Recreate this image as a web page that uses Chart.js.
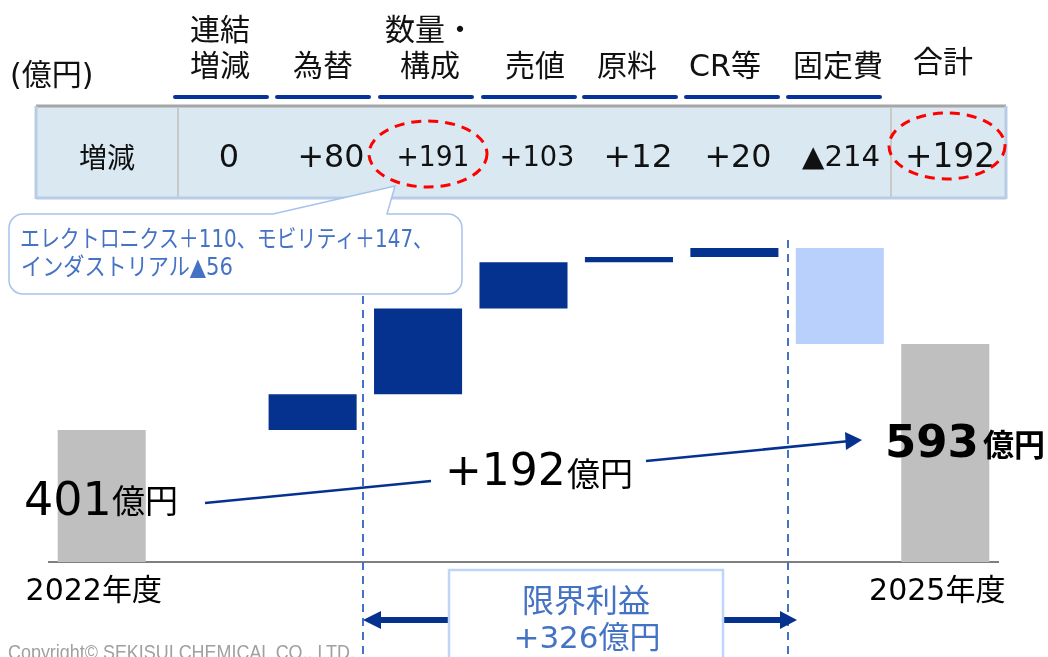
<!DOCTYPE html>
<html><head><meta charset="utf-8">
<script src="https://cdn.jsdelivr.net/npm/chart.js@4.4.0/dist/chart.umd.min.js"></script>
<style>
html,body{margin:0;padding:0;background:#fff;width:1048px;height:657px;overflow:hidden;}
#wrap{position:relative;width:1048px;height:657px;}
#c{position:absolute;left:0;top:200px;}
#ov{position:absolute;left:0;top:0;}
</style></head><body>
<div id="wrap">
<canvas id="c" width="1048" height="430"></canvas>
<svg id="ov" width="1048" height="657" xmlns="http://www.w3.org/2000/svg"></svg>
</div>
<script>
// ---- data ----
const categories = ['2022年度','連結増減','為替','数量・構成','売値','原料','CR等','固定費','2025年度'];
const startTotal = 401;
const endTotal = 593;
const changes = [0, 80, 191, 103, 12, 20, -214];
const headerLabels = [['連結','増減'],['為替'],['数量・','構成'],['売値'],['原料'],['CR等'],['固定費'],['合計']];
const rowLabel = '増減';
const tableValues = ['0','+80','+191','+103','+12','+20','▲214','+192'];
const breakdownText = ['エレクトロニクス＋110、モビリティ＋147、','インダストリアル▲56'];
const marginalProfit = ['限界利益','+326億円'];
const unitLabel = '(億円)';
const diffLabel = '+192';
const yen = '億円';
const copyright = 'Copyright© SEKISUI CHEMICAL CO., LTD.';

// ---- styles ----
const FONT = '"DejaVu Sans", "Noto Sans CJK JP", sans-serif';
const SFONT = "'DejaVu Sans','Noto Sans CJK JP',sans-serif";
const DARK = '#05318F', LIGHT = '#B9D0FC', GRAY = '#BFBFBF';

// ---- waterfall bars ----
let cum = startTotal;
const barData = [[0, startTotal]];
const barColors = [GRAY];
changes.forEach(d => { barData.push([cum, cum + d]); barColors.push(d >= 0 ? DARK : LIGHT); cum += d; });
barData.push([0, endTotal]); barColors.push(GRAY);

new Chart(document.getElementById('c').getContext('2d'), {
  type: 'bar',
  data: { labels: categories, datasets: [{ data: barData, backgroundColor: barColors, borderWidth: 0,
    barPercentage: 0.835, categoryPercentage: 1, clip: 0 }] },
  options: {
    responsive: false, animation: false, devicePixelRatio: 1,
    layout: { padding: { left: 49, right: 50, top: 0, bottom: 8 } },
    plugins: { legend: { display: false }, tooltip: { enabled: false } },
    scales: {
      x: { grid: { display: false, drawTicks: false }, border: { display: true, color: '#7F7F7F', width: 2 },
        ticks: { autoSkip: false, maxRotation: 0, minRotation: 0, padding: 12, labelOffset: -8, color: '#000',
          font: { family: FONT, size: 30 },
          callback: (v, i) => (i === 0 || i === categories.length - 1) ? categories[i] : '' } },
      y: { display: false, min: 107, max: 914 }
    }
  }
});

// ---- overlay ----
const NS = 'http://www.w3.org/2000/svg';
const svg = document.getElementById('ov');
function el(tag, attrs, text) {
  const e = document.createElementNS(NS, tag);
  for (const k in attrs) e.setAttribute(k, attrs[k]);
  if (text != null) e.textContent = text;
  svg.appendChild(e); return e;
}

// unit
el('text', {x: 10, y: 85, 'font-family': SFONT, 'font-size': 30, fill: '#111'}, unitLabel);

// headers
const headerCenter = [220, 323, 430, 535, 627, 725, 838, 943];
headerLabels.forEach((lines, i) => {
  const ys = lines.length === 2 ? [39.5, 76] : [i === headerLabels.length - 1 ? 72 : 76];
  lines.forEach((t, j) => el('text', {x: headerCenter[i], y: ys[j], 'text-anchor': 'middle',
    'font-family': SFONT, 'font-size': 30, fill: '#111'}, t));
});
const ulStart = [175, 277, 380, 483, 584, 686, 788];
ulStart.forEach(x => el('line', {x1: x, y1: 97, x2: x + 92, y2: 97, stroke: '#06339A', 'stroke-width': 4, 'stroke-linecap': 'round'}));

// table
el('rect', {x: 36, y: 106, width: 970, height: 92, fill: '#DAE8F1'});
el('line', {x1: 36, y1: 106, x2: 1006, y2: 106, stroke: '#A6A6A6', 'stroke-width': 3});
el('line', {x1: 36, y1: 198, x2: 1006, y2: 198, stroke: '#B8CCE8', 'stroke-width': 3});
el('line', {x1: 36, y1: 106, x2: 36, y2: 199, stroke: '#B8CCE8', 'stroke-width': 3});
el('line', {x1: 1006, y1: 106, x2: 1006, y2: 199, stroke: '#B8CCE8', 'stroke-width': 3});
el('line', {x1: 178, y1: 107, x2: 178, y2: 197, stroke: '#C9C9C9', 'stroke-width': 2});
el('line', {x1: 891, y1: 107, x2: 891, y2: 197, stroke: '#C9C9C9', 'stroke-width': 2});
el('text', {x: 107, y: 168, 'text-anchor': 'middle', 'font-family': SFONT, 'font-size': 28, fill: '#111'}, rowLabel);
const valCenter = [229, 331, 433, 537, 638, 738, 841, 950];
const valSize = [32, 32, 29, 29, 32, 32, 29, 33];
const valWidth = [0, 67, 73, 75, 69, 67, 78, 90];
tableValues.forEach((t, i) => {
  const a = {x: valCenter[i], y: 155 + 0.3645 * valSize[i], 'text-anchor': 'middle', 'font-family': SFONT,
    'font-size': valSize[i], fill: '#111'};
  if (valWidth[i]) { a.textLength = valWidth[i]; a.lengthAdjust = 'spacingAndGlyphs'; }
  el('text', a, t);
});
el('ellipse', {cx: 428, cy: 154, rx: 59, ry: 33, fill: 'none', stroke: '#FF0000', 'stroke-width': 3, 'stroke-dasharray': '10 7'});
el('ellipse', {cx: 947, cy: 146, rx: 58, ry: 33, fill: 'none', stroke: '#FF0000', 'stroke-width': 3, 'stroke-dasharray': '10 7'});

// callout
el('path', {d: 'M273 214 L395 186 L387 214 H448 A14 14 0 0 1 462 228 V280 A14 14 0 0 1 448 294 H23 A14 14 0 0 1 9 280 V228 A14 14 0 0 1 23 214 Z',
  fill: '#fff', stroke: '#A8C2EC', 'stroke-width': 1.5});
el('text', {x: 20, y: 247, 'font-family': SFONT, 'font-size': 24, fill: '#4472C4', textLength: 413, lengthAdjust: 'spacingAndGlyphs'}, breakdownText[0]);
el('text', {x: 21, y: 275, 'font-family': SFONT, 'font-size': 24, fill: '#4472C4', textLength: 212, lengthAdjust: 'spacingAndGlyphs'}, breakdownText[1]);

// dashed verticals
el('line', {x1: 363, y1: 296, x2: 363, y2: 657, stroke: '#4472C4', 'stroke-width': 2, 'stroke-dasharray': '8 6'});
el('line', {x1: 788, y1: 240, x2: 788, y2: 657, stroke: '#4472C4', 'stroke-width': 2, 'stroke-dasharray': '8 6'});

// connecting arrow
el('line', {x1: 205, y1: 503, x2: 431, y2: 481, stroke: DARK, 'stroke-width': 2.5});
el('line', {x1: 646, y1: 461, x2: 850, y2: 441, stroke: DARK, 'stroke-width': 2.5});
el('polygon', {points: '862,440 845,432 846,450', fill: DARK});

// big labels
el('text', {x: 24, y: 515, 'font-family': SFONT, 'font-size': 46, fill: '#000'}, String(startTotal));
el('text', {x: 112, y: 513, 'font-family': SFONT, 'font-size': 33, fill: '#000'}, yen);
el('text', {x: 445, y: 485, 'font-family': SFONT, 'font-size': 44, fill: '#000'}, diffLabel);
el('text', {x: 567, y: 486, 'font-family': SFONT, 'font-size': 33, fill: '#000'}, yen);
el('text', {x: 885, y: 457, 'font-family': SFONT, 'font-size': 45, 'font-weight': 'bold', fill: '#000'}, String(endTotal));
el('text', {x: 983, y: 456, 'font-family': SFONT, 'font-size': 31, 'font-weight': 'bold', fill: '#000'}, yen);

// marginal profit box
el('line', {x1: 449, y1: 620, x2: 376, y2: 620, stroke: DARK, 'stroke-width': 6});
el('polygon', {points: '363,620 381,611 381,629', fill: DARK});
el('line', {x1: 723, y1: 620, x2: 784, y2: 620, stroke: DARK, 'stroke-width': 6});
el('polygon', {points: '797,620 780,611 780,629', fill: DARK});
el('rect', {x: 449, y: 570, width: 274, height: 110, fill: '#fff', stroke: '#BDD5F8', 'stroke-width': 2.5});
el('text', {x: 586, y: 612, 'text-anchor': 'middle', 'font-family': SFONT, 'font-size': 32, fill: '#4472C4'}, marginalProfit[0]);
el('text', {x: 587, y: 648, 'text-anchor': 'middle', 'font-family': SFONT, 'font-size': 31, fill: '#4472C4'}, marginalProfit[1]);

// copyright
el('text', {x: 8, y: 659, 'font-family': "'Liberation Sans',Arial,sans-serif", 'font-size': 21, fill: '#A0A0A0', textLength: 347, lengthAdjust: 'spacingAndGlyphs'}, copyright);
</script>
</body></html>
